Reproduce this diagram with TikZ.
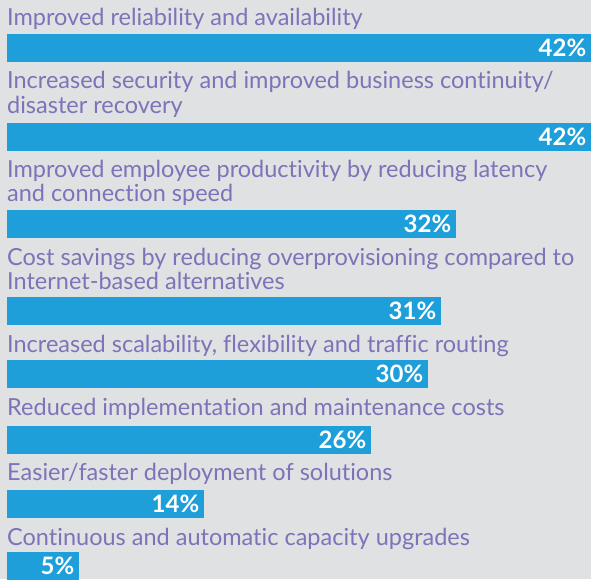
\documentclass[tikz,border=0pt]{standalone}
\usepackage{fontspec}
\setmainfont{Lato}[Ligatures={TeX,CommonOff}]
\usepackage{tikz}
\usetikzlibrary{positioning}

\definecolor{chartbg}{RGB}{224,225,227}
\definecolor{barblue}{RGB}{30,159,217}
\definecolor{labelpurple}{RGB}{122,116,184}

\tikzset{
  itemtext/.style={anchor=base west, inner sep=0pt, text=labelpurple,
    font=\fontsize{23.5}{25}\selectfont},
  barbox/.style={anchor=north west, fill=barblue, inner sep=0pt, minimum height=28pt},
  pcttext/.style={anchor=base east, inner sep=0pt, text=white,
    font=\fontsize{24}{25}\selectfont\bfseries}
}

\begin{document}
\begin{tikzpicture}[x=1pt,y=-1pt]
	
	\fill[chartbg] (0,0) rectangle (591,579);
	\useasboundingbox (0,0) rectangle (591,579);
	
	\node[itemtext] (t1) at (7,25) {Improved reliability and availability};
	\node[barbox, minimum width=584pt] (b1) at (7,34) {};
	\node[pcttext] (p1) at ([xshift=-5pt,yshift=6pt]b1.south east) {42\%};
	
	\node[itemtext] (t2) at (7,88) {Increased security and improved business continuity/};
	\node[itemtext] (t2b) at (7,113) {disaster recovery};
	\node[barbox, minimum width=584pt] (b2) at (7,123) {};
	\node[pcttext] (p2) at ([xshift=-5pt,yshift=6pt]b2.south east) {42\%};
	
	\node[itemtext] (t3) at (7,177) {Improved employee productivity by reducing latency};
	\node[itemtext] (t3b) at (7,201) {and connection speed};
	\node[barbox, minimum width=449pt] (b3) at (7,210) {};
	\node[pcttext] (p3) at ([xshift=-5pt,yshift=6pt]b3.south east) {32\%};
	
	\node[itemtext] (t4) at (7,265) {Cost savings by reducing overprovisioning compared to};
	\node[itemtext] (t4b) at (7,289) {Internet-based alternatives};
	\node[barbox, minimum width=434pt] (b4) at (7,297) {};
	\node[pcttext] (p4) at ([xshift=-5pt,yshift=6pt]b4.south east) {31\%};
	
	\node[itemtext] (t5) at (7,352) {Increased scalability, flexibility and traffic routing};
	\node[barbox, minimum width=421pt] (b5) at (7,360) {};
	\node[pcttext] (p5) at ([xshift=-5pt,yshift=6pt]b5.south east) {30\%};
	
	\node[itemtext] (t6) at (7,415) {Reduced implementation and maintenance costs};
	\node[barbox, minimum width=364pt] (b6) at (7,426) {};
	\node[pcttext] (p6) at ([xshift=-5pt,yshift=6pt]b6.south east) {26\%};
	
	\node[itemtext] (t7) at (7,480) {Easier/faster deployment of solutions};
	\node[barbox, minimum width=197pt] (b7) at (7,490) {};
	\node[pcttext] (p7) at ([xshift=-5pt,yshift=6pt]b7.south east) {14\%};
	
	\node[itemtext] (t8) at (7,545) {Continuous and automatic capacity upgrades};
	\node[barbox, minimum width=72pt] (b8) at (7,552) {};
	\node[pcttext] (p8) at ([xshift=-5pt,yshift=6pt]b8.south east) {5\%};
	
\end{tikzpicture}
\end{document}
